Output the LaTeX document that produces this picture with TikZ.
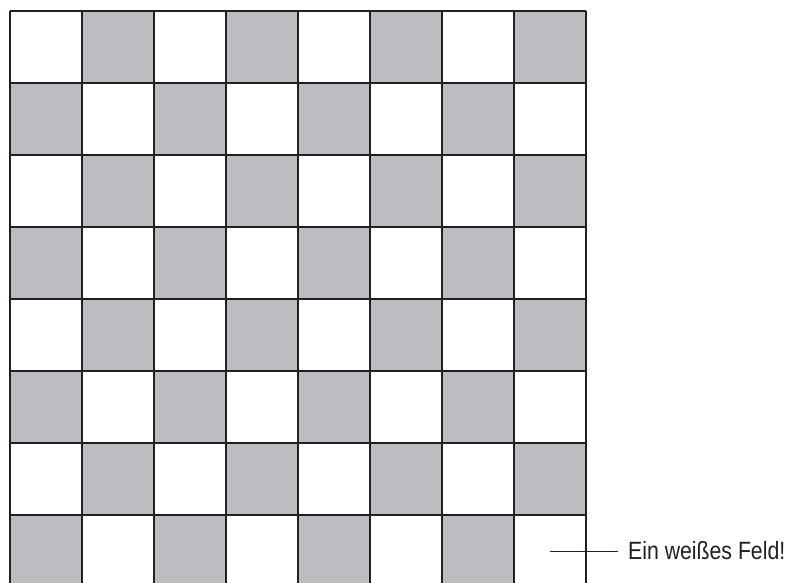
\documentclass[tikz,border=0pt]{standalone}
\usepackage{fontspec}
\setmainfont{Liberation Sans}
\definecolor{boardgray}{HTML}{BCBDC1}
\definecolor{boardline}{HTML}{231F20}
\tikzset{
  darksq/.style={fill=boardgray},
  gridline/.style={draw=boardline, line width=2.7pt},
  leader/.style={draw=boardline, line width=1pt},
  labeltext/.style={inner sep=0pt, anchor=west, text=boardline, font=\fontsize{25}{28}\selectfont}
}
\begin{document}
\begin{tikzpicture}[x=1pt,y=-1pt]
\useasboundingbox (0,0) rectangle (788,583);
\begin{scope}
\clip (0,0) rectangle (788,583);
\foreach \i in {0,...,7}{
  \foreach \j in {0,...,7}{
    \pgfmathtruncatemacro{\sqparity}{mod(\i+\j,2)}
    \ifnum\sqparity=1
      \fill[darksq] ({10+72*\i},{11+72*\j}) rectangle ({82+72*\i},{83+72*\j});
    \fi
  }
}
\foreach \i in {0,...,8}{
  \draw[gridline] ({10+72*\i},11) -- ({10+72*\i},590);
}
\foreach \j in {0,...,7}{
  \draw[gridline] (10,{11+72*\j}) -- (586,{11+72*\j});
}
\end{scope}
\node[labeltext] (lbl) at (628,551) {\scalebox{0.85}[1]{Ein weißes Feld!}};
\coordinate (lstart) at (550,551);
\draw[leader] (lstart) -- ([xshift=-10pt]lbl.west);
\end{tikzpicture}
\end{document}
